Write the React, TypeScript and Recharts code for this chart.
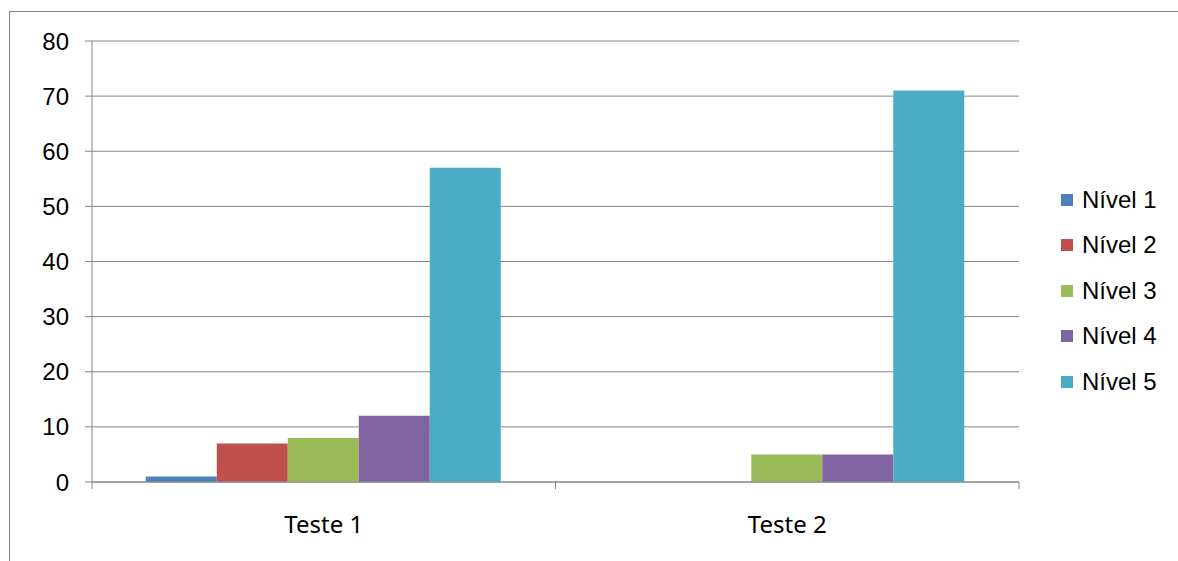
import React from 'react'
import {
  BarChart,
  Bar,
  XAxis,
  YAxis,
  CartesianGrid,
  Legend,
} from 'recharts'

const categories = ['Teste 1', 'Teste 2']
const nivel1 = [1, 0]
const nivel2 = [7, 0]
const nivel3 = [8, 5]
const nivel4 = [12, 5]
const nivel5 = [57, 71]
const yTicks = [0, 10, 20, 30, 40, 50, 60, 70, 80]

const series = [
  { key: 'n1', name: 'Nível 1', color: '#4F81BD', values: nivel1 },
  { key: 'n2', name: 'Nível 2', color: '#C0504D', values: nivel2 },
  { key: 'n3', name: 'Nível 3', color: '#9BBB59', values: nivel3 },
  { key: 'n4', name: 'Nível 4', color: '#8064A2', values: nivel4 },
  { key: 'n5', name: 'Nível 5', color: '#4BACC6', values: nivel5 },
]

const data = categories.map((name, i) => {
  const row: Record<string, string | number> = { name }
  series.forEach((s) => {
    row[s.key] = s.values[i]
  })
  return row
})

const axisColor = '#868686'
const X_TICK_SIZE = 7
const X_TICK_MARGIN = 27

// category label plus tick marks on the band edges (between categories)
const CategoryTick = (props: any) => {
  const { x, y, payload } = props
  const half = payload?.offset ?? 0
  const axisY = y - X_TICK_MARGIN - X_TICK_SIZE
  return (
    <g>
      <line x1={x - half} x2={x - half} y1={axisY} y2={axisY + X_TICK_SIZE} stroke={axisColor} />
      <line x1={x + half} x2={x + half} y1={axisY} y2={axisY + X_TICK_SIZE} stroke={axisColor} />
      <text
        x={x}
        y={y}
        dy="0.71em"
        textAnchor="middle"
        fill="#000"
        fontSize={24}
        fontFamily='"Noto Sans", sans-serif'
      >
        {payload.value}
      </text>
    </g>
  )
}

const LegendList = () => (
  <div style={{ fontFamily: '"Liberation Sans", Arial, sans-serif', fontSize: 24, color: '#000' }}>
    {series.map((s) => (
      <div
        key={s.key}
        style={{ display: 'flex', alignItems: 'center', height: 45.5 }}
      >
        <span
          style={{
            display: 'inline-block',
            width: 12,
            height: 12,
            background: s.color,
            marginRight: 9,
          }}
        />
        <span>{s.name}</span>
      </div>
    ))}
  </div>
)

const App = () => {
  return (
    <div style={{ position: 'absolute', left: 0, top: 0, width: 1178, height: 561, background: '#fff' }}>
      <div
        style={{
          position: 'absolute',
          left: 9,
          top: 11,
          width: 1178,
          height: 600,
          borderTop: '1px solid #868686',
          borderLeft: '1px solid #868686',
        }}
      />
      {/* legend box is reserved on the right, so this margin only covers the gap */}
      <BarChart
        width={1178}
        height={561}
        data={data}
        margin={{ top: 41, right: 42, left: 32, bottom: 39 }}
        barCategoryGap="11.6%"
        barGap={0}
        style={{ position: 'absolute', left: 0, top: 0 }}
      >
        <CartesianGrid vertical={false} stroke={axisColor} strokeWidth={1} />
        <XAxis
          dataKey="name"
          height={40}
          tickSize={X_TICK_SIZE}
          tickMargin={X_TICK_MARGIN}
          tickLine={false}
          stroke={axisColor}
          tick={<CategoryTick />}
          axisLine={{ stroke: axisColor }}
        />
        <YAxis
          width={60}
          domain={[0, 80]}
          ticks={yTicks}
          interval={0}
          tickSize={7}
          tickMargin={16}
          stroke={axisColor}
          tick={{ fill: '#000', fontSize: 24, fontFamily: '"Liberation Sans", Arial, sans-serif' }}
        />
        <Legend
          layout="vertical"
          align="right"
          verticalAlign="top"
          wrapperStyle={{ left: 1061, top: 177, width: 117 }}
          content={() => <LegendList />}
        />
        {series.map((s) => (
          <Bar
            key={s.key}
            dataKey={s.key}
            name={s.name}
            fill={s.color}
            isAnimationActive={false}
          />
        ))}
      </BarChart>
    </div>
  )
}

export default App
